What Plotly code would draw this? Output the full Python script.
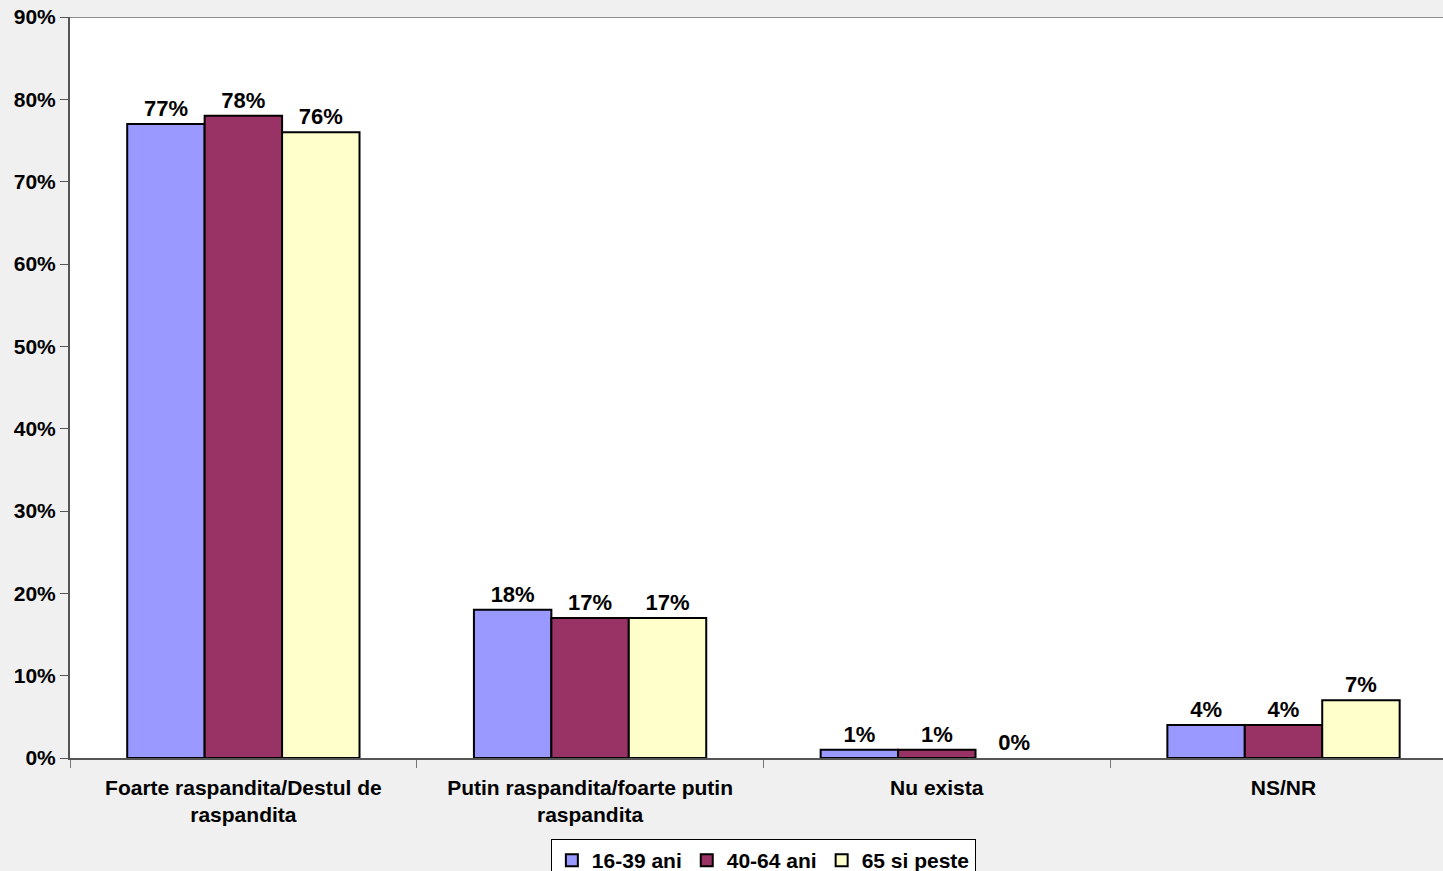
import plotly.graph_objects as go

categories = ["Foarte raspandita/Destul de<br>raspandita",
              "Putin raspandita/foarte putin<br>raspandita",
              "Nu exista",
              "NS/NR"]
series_names = ["16-39 ani", "40-64 ani", "65 si peste"]
values_16_39 = [77, 18, 1, 4]
values_40_64 = [78, 17, 1, 4]
values_65 = [76, 17, 0, 7]
colors = ["#9999FF", "#993366", "#FFFFCC"]
y_ticks = [0, 10, 20, 30, 40, 50, 60, 70, 80, 90]

FONT = "Liberation Sans, Arial, sans-serif"
FIG_H = 885

fig = go.Figure()
for name, vals, col in zip(series_names, [values_16_39, values_40_64, values_65], colors):
    fig.add_trace(go.Bar(
        x=categories, y=vals, name=name,
        marker=dict(color=col, line=dict(color="#000000",
                                         width=[2 if v > 0 else 0 for v in vals])),
        text=[f"<b>{v}%</b>" for v in vals],
        textposition="outside",
        textfont=dict(family=FONT, size=22, color="#000000"),
        cliponaxis=False,
    ))

fig.add_shape(type="line", xref="paper", yref="y", x0=0, x1=1, y0=90, y1=90,
              line=dict(color="#8c8c8c", width=2))

plot_h = 758 - 17
fig.update_layout(
    width=1443, height=FIG_H,
    margin=dict(l=70, r=0, t=17, b=FIG_H - 758),
    paper_bgcolor="#f0f0f0",
    plot_bgcolor="#ffffff",
    barmode="group",
    bargap=0.33,
    bargroupgap=0,
    font=dict(family=FONT, size=22, color="#000000"),
    showlegend=True,
    legend=dict(
        orientation="h", x=0.505, xanchor="center", y=-(839 - 758) / plot_h, yanchor="top",
        bgcolor="#ffffff", bordercolor="#000000", borderwidth=1,
        font=dict(family=FONT, size=21, color="#000000", weight="bold"),
        itemwidth=30, tracegroupgap=0,
    ),
)

fig.update_xaxes(
    type="category",
    range=[-0.5, 3.46],
    showline=True, linecolor="#555555", linewidth=1.5,
    ticks="outside", tickson="boundaries", ticklen=8, tickcolor="#777777",
    tickfont=dict(family=FONT, size=21, color="#000000", weight="bold"),
    ticklabelstandoff=10,
    showgrid=False,
)
fig.update_yaxes(
    range=[0, 90],
    tickvals=y_ticks,
    ticktext=[f"{v}%" for v in y_ticks],
    showline=True, linecolor="#555555", linewidth=2,
    ticks="outside", ticklen=8, tickcolor="#555555",
    tickfont=dict(family=FONT, size=21, color="#000000", weight="bold"),
    showgrid=False, zeroline=False,
)

fig.write_html("out.html",
               config={"displayModeBar": False},
               post_script="document.body.style.margin='0';document.body.style.overflow='hidden';"
                           "document.documentElement.style.overflow='hidden';")
